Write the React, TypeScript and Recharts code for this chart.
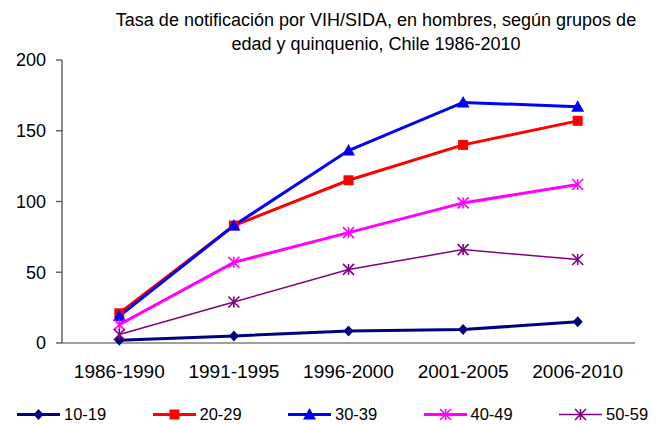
import { LineChart, Line, XAxis, YAxis } from 'recharts';

const periods = ['1986-1990', '1991-1995', '1996-2000', '2001-2005', '2006-2010'];
const g10_19 = [2, 5, 8.5, 9.5, 15];
const g20_29 = [21, 83, 115, 140, 157];
const g30_39 = [19, 83, 136, 170, 167];
const g40_49 = [13, 57, 78, 99, 112];
const g50_59 = [6, 29, 52, 66, 59];
const yTicks = [0, 50, 100, 150, 200];

const data = periods.map((p, i) => ({
  x: i + 0.5,
  name: p,
  a: g10_19[i],
  b: g20_29[i],
  c: g30_39[i],
  d: g40_49[i],
  e: g50_59[i],
}));

type Shape = 'diamond' | 'square' | 'triangle' | 'star' | 'xstar';

const Marker = ({ cx, cy, shape, color }: { cx: number; cy: number; shape: Shape; color: string }) => {
  if (shape === 'diamond') {
    return <path d={`M${cx},${cy - 5.5}L${cx + 5},${cy}L${cx},${cy + 5.5}L${cx - 5},${cy}Z`} fill={color} />;
  }
  if (shape === 'square') {
    return <rect x={cx - 5} y={cy - 5} width={10} height={10} fill={color} />;
  }
  if (shape === 'triangle') {
    return <path d={`M${cx},${cy - 6.5}L${cx + 6.5},${cy + 5}L${cx - 6.5},${cy + 5}Z`} fill={color} />;
  }
  const r = 5.5;
  const lines = [[-r, -r, r, r], [-r, r, r, -r], [0, -r, 0, r]];
  return (
    <g stroke={color} strokeWidth={1.6}>
      {lines.map((l, i) => (
        <line key={i} x1={cx + l[0]} y1={cy + l[1]} x2={cx + l[2]} y2={cy + l[3]} />
      ))}
    </g>
  );
};

const series = [
  { key: 'a', label: '10-19', color: '#000080', shape: 'diamond' as Shape, width: 3 },
  { key: 'b', label: '20-29', color: '#FF0000', shape: 'square' as Shape, width: 3 },
  { key: 'c', label: '30-39', color: '#0000FF', shape: 'triangle' as Shape, width: 3 },
  { key: 'd', label: '40-49', color: '#FF00FF', shape: 'star' as Shape, width: 3 },
  { key: 'e', label: '50-59', color: '#800080', shape: 'xstar' as Shape, width: 1.5 },
];

const font = 'Arial, "Liberation Sans", sans-serif';

export default function App() {
  return (
    <div style={{ position: 'absolute', left: 0, top: 0, width: 662, height: 425, fontFamily: font, background: '#fff' }}>
      <div style={{ position: 'absolute', left: 76, top: 8, width: 600, textAlign: 'center', fontSize: 18, lineHeight: '24px', color: '#000' }}>
        Tasa de notificación por VIH/SIDA, en hombres, según grupos de
        <br />
        edad y quinquenio, Chile 1986-2010
      </div>
      <LineChart width={662} height={425} data={data} margin={{ top: 60, right: 27, bottom: 51, left: 0 }}>
        <XAxis
          dataKey="x"
          type="number"
          domain={[0, 5]}
          ticks={[0.5, 1.5, 2.5, 3.5, 4.5]}
          tickFormatter={(v: number) => periods[Math.floor(v)]}
          tickLine={false}
          axisLine={{ stroke: '#808080', strokeWidth: 1.5 }}
          tick={{ fill: '#000', fontSize: 19, fontFamily: font }}
          tickMargin={16}
        />
        <XAxis
          xAxisId="edges"
          dataKey="x"
          type="number"
          domain={[0, 5]}
          ticks={[0, 1, 2, 3, 4, 5]}
          tick={false}
          axisLine={false}
          tickLine={{ stroke: '#808080', strokeWidth: 1.5 }}
          tickSize={6}
          height={1}
        />
        <YAxis
          width={62}
          domain={[0, 200]}
          ticks={yTicks}
          axisLine={{ stroke: '#666', strokeWidth: 1.5 }}
          tickLine={{ stroke: '#666', strokeWidth: 1.5 }}
          tickSize={6}
          tickMargin={10}
          tick={{ fill: '#000', fontSize: 18, fontFamily: font }}
        />
        {series.map((s) => (
          <Line
            key={s.key}
            dataKey={s.key}
            stroke={s.color}
            strokeWidth={s.width}
            isAnimationActive={false}
            dot={(p: any) => <Marker key={`${s.key}-${p.index}`} cx={p.cx} cy={p.cy} shape={s.shape} color={s.color} />}
            activeDot={false}
          />
        ))}
      </LineChart>
      <div style={{ position: 'absolute', left: 17, top: 405, width: 645, display: 'flex', fontSize: 16.5, lineHeight: '19px', color: '#000' }}>
        {series.map((s) => (
          <div key={s.key} style={{ width: 135.5, flexShrink: 0, display: 'flex', alignItems: 'center', whiteSpace: 'nowrap' }}>
            <svg width={47} height={19} style={{ display: 'block', flexShrink: 0 }}>
              <line x1={0} y1={9.5} x2={43} y2={9.5} stroke={s.color} strokeWidth={s.width} />
              <Marker cx={21.5} cy={9.5} shape={s.shape} color={s.color} />
            </svg>
            <span>{s.label}</span>
          </div>
        ))}
      </div>
    </div>
  );
}
